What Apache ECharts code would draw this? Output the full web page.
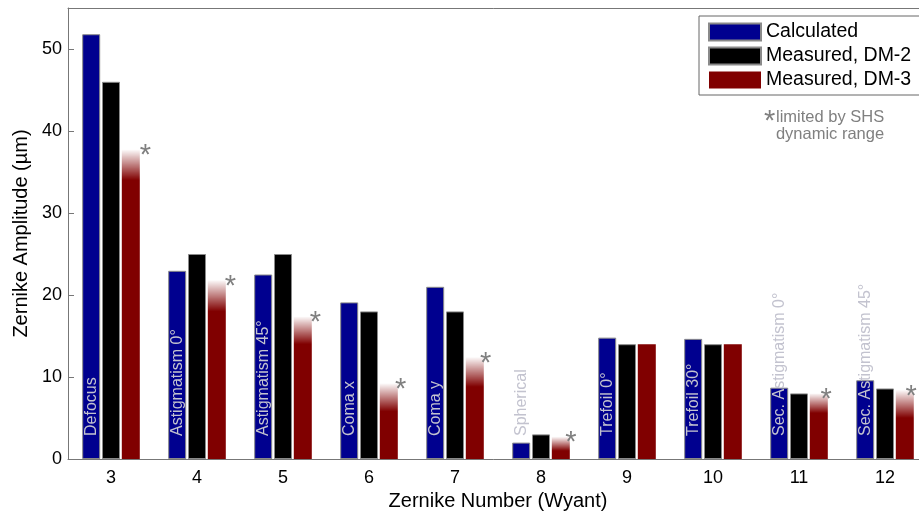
<!DOCTYPE html>
<html><head><meta charset="utf-8">
<script src="https://cdn.jsdelivr.net/npm/echarts@6/dist/echarts.min.js"></script>
<style>html,body{margin:0;padding:0;background:#fff}#c{width:919px;height:511px}</style>
</head><body><div id="c"></div>
<script>
const categories = ['3','4','5','6','7','8','9','10','11','12'];
const calculated = [51.8, 22.95, 22.5, 19.1, 21.0, 2.0, 14.8, 14.65, 8.7, 9.6];
const measuredDM2 = [46.0, 25.0, 25.0, 18.0, 18.0, 3.0, 14.0, 14.0, 8.0, 8.6];
const dm3Solid = [34.0, 18.0, 14.0, 5.8, 8.8, 1.0, 14.0, 14.0, 5.6, 5.0];
const dm3Top = [37.7, 21.8, 17.35, 9.2, 12.4, 2.7, 14.0, 14.0, 8.0, 8.4];
const limited = [1, 1, 1, 1, 1, 1, 0, 0, 1, 1];
const barLabels = ['Defocus','Astigmatism 0°','Astigmatism 45°','Coma x','Coma y','Spherical','Trefoil 0°','Trefoil 30°','Sec. Astigmatism 0°','Sec. Astigmatism 45°'];
const yTicks = [0, 10, 20, 30, 40, 50];

const FONT = 'Liberation Sans, Arial, Helvetica, sans-serif';
const RED = '#800000';
const chart = echarts.init(document.getElementById('c'), null, {renderer: 'canvas'});
const border = {borderColor: '#8a8a8a', borderWidth: 1};

const dm3Data = dm3Top.map((t, i) => {
  const f = (t - dm3Solid[i]) / t; // fraction of bar that fades
  const item = {value: t};
  if (limited[i]) {
    item.itemStyle = {
      color: new echarts.graphic.LinearGradient(0, 0, 0, 1, [
        {offset: 0, color: 'rgba(128,0,0,0.02)'},
        {offset: f, color: 'rgba(128,0,0,1)'},
        {offset: 1, color: 'rgba(128,0,0,1)'}
      ])
    };
    item.label = {show: true, offset: [14.5 - 0.9 * i, 21]};
  }
  return item;
});

chart.setOption({
  animation: false,
  textStyle: {fontFamily: FONT},
  grid: {left: 68, top: 8, width: 860, height: 451, outerBoundsMode: 'none', containLabel: false},
  legend: {
    data: ['Calculated', 'Measured, DM-2', 'Measured, DM-3'],
    orient: 'vertical', left: 699, top: 16,
    itemWidth: 52, itemHeight: 17, itemGap: 4,
    padding: [6, 20, 5, 9],
    borderColor: '#666', borderWidth: 1, backgroundColor: '#fff',
    icon: 'rect',
    textStyle: {fontSize: 19.5, lineHeight: 20, color: '#000', fontFamily: FONT}
  },
  xAxis: [{
    type: 'category', data: categories, position: 'bottom',
    axisLine: {lineStyle: {color: '#777', width: 1}},
    axisTick: {inside: true, alignWithLabel: true, length: 6, lineStyle: {color: '#777'}},
    axisLabel: {fontSize: 18, color: '#000', margin: 10, fontFamily: FONT},
    name: 'Zernike Number (Wyant)', nameLocation: 'middle', nameGap: 28,
    nameTextStyle: {fontSize: 20, color: '#000', fontFamily: FONT}
  }, {
    type: 'category', data: categories, position: 'top',
    axisLine: {lineStyle: {color: '#777', width: 1}},
    axisTick: {inside: true, alignWithLabel: true, length: 6, lineStyle: {color: '#777'}},
    axisLabel: {show: false}
  }],
  yAxis: [{
    type: 'value', min: 0, max: 55, interval: 10,
    axisLine: {show: true, lineStyle: {color: '#777', width: 1}},
    axisTick: {show: true, inside: true, length: 6, lineStyle: {color: '#777'}},
    splitLine: {show: false},
    axisLabel: {fontSize: 18, color: '#000', margin: 6, fontFamily: FONT,
      formatter: v => yTicks.indexOf(v) >= 0 ? String(v) : ''},
    name: 'Zernike Amplitude (µm)', nameLocation: 'middle', nameGap: 34,
    nameTextStyle: {fontSize: 20, color: '#000', fontFamily: FONT}
  }],
  series: [{
    name: 'Calculated', type: 'bar', data: calculated, barWidth: 18, barGap: '10%',
    itemStyle: Object.assign({color: '#00008f'}, border),
    label: {
      show: true, position: 'insideBottom', rotate: 90, align: 'left', verticalAlign: 'middle',
      distance: 23, fontSize: 16, color: '#c3c3cf', fontFamily: FONT,
      formatter: p => barLabels[p.dataIndex]
    },
    z: 2
  }, {
    name: 'Measured, DM-2', type: 'bar', data: measuredDM2, barWidth: 18, barGap: '10%',
    itemStyle: Object.assign({color: '#000000'}, border)
  }, {
    name: 'Measured, DM-3', type: 'bar', data: dm3Data, barWidth: 18, barGap: '10%',
    itemStyle: {color: RED, borderColor: '#8a8a8a', borderWidth: 0},
    label: {
      show: false, position: 'top', distance: 0,
      formatter: '*', fontSize: 29, color: '#808080', fontFamily: FONT
    }
  }],
  graphic: [{
    type: 'text', left: 764, top: 107,
    style: {text: '*', fontSize: 29, fill: '#808080', fontFamily: FONT}
  }, {
    type: 'text', left: 776, top: 109,
    style: {text: 'limited by SHS', fontSize: 16.5, fill: '#808080', fontFamily: FONT}
  }, {
    type: 'text', x: 830, y: 126,
    style: {text: 'dynamic range', fontSize: 16.5, fill: '#808080', fontFamily: FONT, align: 'center'}
  }]
});
</script></body></html>
